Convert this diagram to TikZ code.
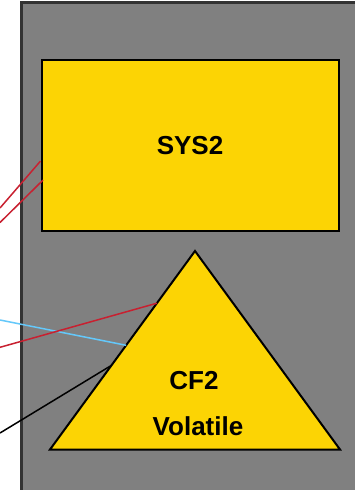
\documentclass[tikz,border=0pt]{standalone}
\usepackage{fontspec}
\setmainfont{Liberation Sans}
\usetikzlibrary{calc}
\definecolor{cfyellow}{RGB}{252,212,4}
\definecolor{wirered}{RGB}{200,32,48}
\definecolor{wireblue}{RGB}{100,200,250}
\begin{document}
\begin{tikzpicture}[x=1pt, y=-1pt, thick]%
  \useasboundingbox (0,0) rectangle (355,490);
  \fill[gray] (21.5,2.5) rectangle (360,495);
  \draw[black!80, line width=2.5pt] (21.5,495) -- (21.5,2.5) -- (360,2.5);
  % system box
  \node[draw=black, fill=cfyellow, line width=2pt, minimum width=297pt,
    minimum height=171pt, inner sep=0pt, anchor=north west]
    (sys) at (40.5,59) {};
  \node[font=\bfseries\fontsize{26}{26}\selectfont] (syslabel) at (sys.center) {SYS2};
  % config triangle
  \coordinate (apex) at (195,251);
  \coordinate (baseleft) at (50,449.5);
  \coordinate (baseright) at (340,449.5);
  \filldraw[fill=cfyellow, draw=black, line width=2pt, line join=miter]
    (apex) -- (baseleft) -- (baseright) -- cycle;
  \node[font=\bfseries\fontsize{26}{26}\selectfont] (cf) at (194,381) {CF2};
  \node[font=\bfseries\fontsize{26}{26}\selectfont] (vol) at (198,426) {Volatile};
  % wires
  \coordinate (r1) at (0,208);
  \coordinate (r2) at (0,222.5);
  \coordinate (b1) at (0,320);
  \coordinate (r3) at (0,347.3);
  \coordinate (k1) at (0,433);
  \draw[wirered, line width=1.5pt] (r1) -- ($(sys.north west)!.59!(sys.south west)$);
  \draw[wirered, line width=1.5pt] (r2) -- ($(sys.north west)!.70!(sys.south west) + (2.5,0)$);
  \draw[wireblue, line width=1.5pt] (b1) -- ($(apex)!.475!(baseleft)$);
  \draw[wirered, line width=1.5pt] (r3) -- ($(apex)!.263!(baseleft)$);
  \draw[black, line width=1.5pt] (k1) -- ($(apex)!.576!(baseleft)$);
\end{tikzpicture}
\end{document}
